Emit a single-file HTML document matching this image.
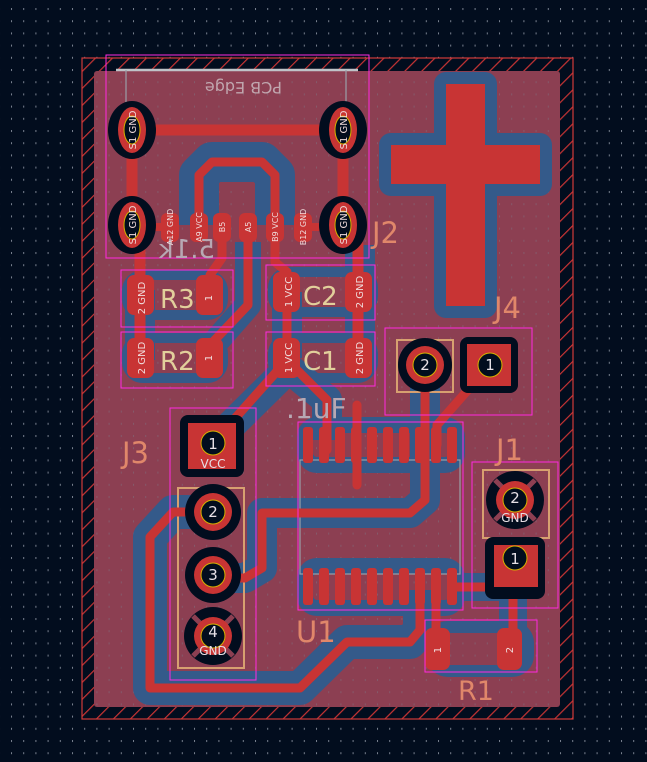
<!DOCTYPE html>
<html><head><meta charset="utf-8"><style>
html,body{margin:0;padding:0;background:#020d1e;}
svg{display:block}
text{font-family:"DejaVu Sans","Liberation Sans",sans-serif;}
</style></head><body>
<svg width="647" height="762" viewBox="0 0 647 762" xmlns="http://www.w3.org/2000/svg">
<defs>
<pattern id="grid" x="11" y="8" width="12.2" height="12.2" patternUnits="userSpaceOnUse">
<rect x="0" y="0" width="1" height="2" fill="#7a8290"/>
</pattern>
<pattern id="hatch" width="12" height="12" patternUnits="userSpaceOnUse" patternTransform="rotate(45)">
<rect width="12" height="12" fill="#020d1e"/><rect x="0" y="0" width="1.2" height="12" fill="#c83434"/>
</pattern>
</defs>
<rect width="647" height="762" fill="#020d1e"/>
<rect width="647" height="762" fill="url(#grid)"/>
<rect x="82" y="58" width="491" height="661" fill="url(#hatch)"/>
<rect x="82" y="58" width="491" height="661" fill="none" stroke="#d03a3a" stroke-width="1.2"/>
<rect x="94" y="71" width="466" height="636" rx="3" fill="#8c3f52"/>
<rect x="94" y="71" width="466" height="636" fill="url(#grid)" opacity="0.4"/>

<!-- BLUE back-copper halos -->
<path d="M446 84 H485 V145 H540 V184 H485 V306 H446 V184 H391 V145 H446 Z" fill="#345a8a" stroke="#345a8a" stroke-width="24" stroke-linejoin="round"/>
<g fill="none" stroke="#345a8a" stroke-linejoin="round" stroke-linecap="butt">
 <path d="M199 225 V175 L212 162 H262 L275 175 V225" stroke-width="40"/>
 <rect x="127" y="275" width="96" height="40" rx="16" stroke-width="10"/>
 <rect x="127" y="338" width="96" height="40" rx="16" stroke-width="10"/>
 <rect x="273" y="272" width="100" height="40" rx="16" stroke-width="10"/>
 <rect x="273" y="338" width="100" height="40" rx="16" stroke-width="10"/>
 <path d="M287 370 L213 443" stroke-width="30"/>
 <path d="M287 367 L327 400 V440" stroke-width="30"/>
 <rect x="305" y="425" width="152" height="40" rx="12" stroke-width="16"/>
 <rect x="305" y="566" width="152" height="42" rx="12" stroke-width="16"/>
 <path d="M425 365 V500 L410 513 H262 V568 L245 578 H213" stroke-width="30"/>
 <path d="M212 512 H173 L150 537 V688 H300 L347 642 H410 L420 630 V590" stroke-width="34"/>
 <rect x="432" y="627" width="96" height="44" rx="16" stroke-width="12"/>
 <path d="M452 587 H513 M513 560 V650" stroke-width="28"/>
 <path d="M360 245 V360" stroke-width="30"/>
 <path d="M140 290 V360" stroke-width="30"/>
 <path d="M287 292 V358" stroke-width="30"/>
 <path d="M248 242 V305 L213 345" stroke-width="26"/>
</g>

<g fill="none" stroke="#d7a070" stroke-width="2">
 <rect x="178" y="488" width="66" height="180"/>
 <rect x="397" y="340" width="56" height="52"/>
 <rect x="483" y="470" width="66" height="68"/>
</g>
<g fill="none" stroke="#9aa0a8" stroke-width="1.2">
 <rect x="300" y="460" width="160" height="114"/>
 <line x1="116" y1="70" x2="358" y2="70" stroke="#bfc3c8" stroke-width="2.5"/>
 <line x1="126" y1="70" x2="126" y2="110"/><line x1="346" y1="70" x2="346" y2="110"/>
</g>

<g fill="none" stroke="#c83434" stroke-linejoin="round" stroke-linecap="round">
 <path d="M446 84 H485 V145 H540 V184 H485 V306 H446 V184 H391 V145 H446 Z" fill="#c83434" stroke-width="0"/>
 <path d="M132 130 H343" stroke-width="11"/>
 <path d="M132 130 V225 M343 130 V225" stroke-width="11"/>
 <path d="M199 225 V175 L212 162 H262 L275 175 V225" stroke-width="9"/>
 <path d="M170 227 H132" stroke-width="8"/>
 <path d="M303 227 H343" stroke-width="8"/>
 <path d="M140 225 V358" stroke-width="11"/>
 <path d="M343 225 L358 245 V358" stroke-width="11"/>
 <path d="M222 227 V258 L210 275 V295" stroke-width="9"/>
 <path d="M248 227 V305 L210 345 V358" stroke-width="9"/>
 <path d="M275 225 V262 L287 272 V358" stroke-width="9"/>
 <path d="M287 360 L213 443" stroke-width="9"/>
 <path d="M287 360 L327 400 V450" stroke-width="9"/>
 <path d="M357 405 V485" stroke-width="9"/>
 <path d="M425 365 V500 L410 513 H262 V568 L245 578 H213" stroke-width="9"/>
 <path d="M490 365 L437 425 V445" stroke-width="9"/>
 <path d="M212 512 H173 L150 537 V688 H300 L347 642 H410 L420 630 V585" stroke-width="9"/>
 <path d="M436 585 V650" stroke-width="9"/>
 <path d="M452 587 H513" stroke-width="9"/>
 <path d="M513 560 V650" stroke-width="9"/>
</g>

<g>
 <g transform="translate(132,130)"><ellipse rx="24" ry="29" fill="#020d1e"/><ellipse rx="14" ry="23" fill="#c83434"/><ellipse rx="8" ry="14" fill="#020d1e" stroke="#d6b000" stroke-width="1"/></g>
 <g transform="translate(343,130)"><ellipse rx="24" ry="29" fill="#020d1e"/><ellipse rx="14" ry="23" fill="#c83434"/><ellipse rx="8" ry="14" fill="#020d1e" stroke="#d6b000" stroke-width="1"/></g>
 <g transform="translate(132,225)"><ellipse rx="24" ry="29" fill="#020d1e"/><ellipse rx="14" ry="23" fill="#c83434"/><ellipse rx="8" ry="14" fill="#020d1e" stroke="#d6b000" stroke-width="1"/></g>
 <g transform="translate(343,225)"><ellipse rx="24" ry="29" fill="#020d1e"/><ellipse rx="14" ry="23" fill="#c83434"/><ellipse rx="8" ry="14" fill="#020d1e" stroke="#d6b000" stroke-width="1"/></g>
</g>
<g fill="#c83434">
 <rect x="161" y="213" width="18" height="29" rx="6"/>
 <rect x="190" y="213" width="18" height="29" rx="6"/>
 <rect x="213" y="213" width="18" height="29" rx="6"/>
 <rect x="239" y="213" width="18" height="29" rx="6"/>
 <rect x="266" y="213" width="18" height="29" rx="6"/>
 <rect x="294" y="213" width="18" height="29" rx="6"/>
 <rect x="127" y="275" width="27" height="40" rx="7"/><rect x="196" y="275" width="27" height="40" rx="7"/>
 <rect x="127" y="338" width="27" height="40" rx="7"/><rect x="196" y="338" width="27" height="40" rx="7"/>
 <rect x="273" y="272" width="27" height="40" rx="7"/><rect x="345" y="272" width="27" height="40" rx="7"/>
 <rect x="273" y="338" width="27" height="40" rx="7"/><rect x="345" y="338" width="27" height="40" rx="7"/>
 <rect x="425" y="628" width="25" height="42" rx="7"/><rect x="497" y="628" width="25" height="42" rx="7"/>
</g>
<g fill="#c83434">
 <rect x="303" y="427" width="10" height="36" rx="3"/><rect x="319" y="427" width="10" height="36" rx="3"/><rect x="335" y="427" width="10" height="36" rx="3"/><rect x="351" y="427" width="10" height="36" rx="3"/><rect x="367" y="427" width="10" height="36" rx="3"/><rect x="383" y="427" width="10" height="36" rx="3"/><rect x="399" y="427" width="10" height="36" rx="3"/><rect x="415" y="427" width="10" height="36" rx="3"/><rect x="431" y="427" width="10" height="36" rx="3"/><rect x="447" y="427" width="10" height="36" rx="3"/>
 <rect x="303" y="568" width="10" height="37" rx="3"/><rect x="319" y="568" width="10" height="37" rx="3"/><rect x="335" y="568" width="10" height="37" rx="3"/><rect x="351" y="568" width="10" height="37" rx="3"/><rect x="367" y="568" width="10" height="37" rx="3"/><rect x="383" y="568" width="10" height="37" rx="3"/><rect x="399" y="568" width="10" height="37" rx="3"/><rect x="415" y="568" width="10" height="37" rx="3"/><rect x="431" y="568" width="10" height="37" rx="3"/><rect x="447" y="568" width="10" height="37" rx="3"/>
</g>

<g>
 <circle cx="425" cy="365" r="27" fill="#020d1e"/><circle cx="425" cy="365" r="19" fill="#c83434"/><circle cx="425" cy="365" r="12" fill="#020d1e" stroke="#d6b000"/>
 <rect x="460" y="337" width="58" height="56" rx="8" fill="#020d1e"/><rect x="467" y="344" width="44" height="42" fill="#c83434"/><circle cx="490" cy="365" r="12" fill="#020d1e" stroke="#d6b000"/>
 <rect x="180" y="415" width="64" height="62" rx="8" fill="#020d1e"/><rect x="188" y="423" width="48" height="46" fill="#c83434"/><circle cx="213" cy="443" r="12" fill="#020d1e" stroke="#d6b000"/>
 <circle cx="213" cy="512" r="28" fill="#020d1e"/><circle cx="213" cy="512" r="19" fill="#c83434"/><circle cx="213" cy="512" r="12" fill="#020d1e" stroke="#d6b000"/>
 <circle cx="213" cy="575" r="28" fill="#020d1e"/><circle cx="213" cy="575" r="19" fill="#c83434"/><circle cx="213" cy="575" r="12" fill="#020d1e" stroke="#d6b000"/>
 <circle cx="213" cy="636" r="29" fill="#020d1e"/><path d="M193 616 L233 656 M233 616 L193 656" stroke="#8c3f52" stroke-width="5"/><circle cx="213" cy="636" r="19" fill="#c83434"/><circle cx="213" cy="636" r="12" fill="#020d1e" stroke="#d6b000"/>
 <circle cx="515" cy="500" r="29" fill="#020d1e"/><path d="M495 480 L535 520 M535 480 L495 520" stroke="#8c3f52" stroke-width="5"/><circle cx="515" cy="500" r="19" fill="#c83434"/><circle cx="515" cy="500" r="12" fill="#020d1e" stroke="#d6b000"/>
 <rect x="485" y="537" width="60" height="62" rx="8" fill="#020d1e"/><rect x="494" y="545" width="44" height="42" fill="#c83434"/><circle cx="515" cy="558" r="12" fill="#020d1e" stroke="#d6b000"/>
</g>

<g fill="none" stroke="#ff2ae0" stroke-width="1">
 <rect x="106" y="55" width="263" height="203"/>
 <rect x="121" y="270" width="112" height="57"/>
 <rect x="121" y="332" width="112" height="56"/>
 <rect x="266" y="265" width="109" height="55"/>
 <rect x="266" y="332" width="109" height="54"/>
 <rect x="385" y="328" width="147" height="87"/>
 <rect x="170" y="408" width="86" height="272"/>
 <rect x="298" y="422" width="165" height="188"/>
 <rect x="472" y="462" width="86" height="146"/>
 <rect x="425" y="620" width="112" height="52"/>
</g>

<g fill="#e0876a" font-size="29">
 <text x="372" y="243">J2</text>
 <text x="494" y="318">J4</text>
 <text x="496" y="460">J1</text>
 <text x="122" y="463">J3</text>
 <text x="296" y="642">U1</text>
 <text x="458" y="700" font-size="27">R1</text>
</g>
<g fill="#c0a6ae" font-size="16">
 <text transform="translate(282,82) scale(-1,-1)" font-size="16">PCB Edge</text>
 <text x="286" y="418" font-size="28" fill="#b7a8b3">.1uF</text>
 <text transform="translate(215,258) scale(-1,1)" font-size="26" fill="#b7a8b3">5.1k</text>
</g>
<g fill="#f2e9a8" font-size="26" opacity="0.85">
 <text x="160" y="308">R3</text><text x="160" y="370">R2</text>
 <text x="303" y="305">C2</text><text x="303" y="370">C1</text>
</g>
<g fill="#f0dcdc" font-size="10">
 <text transform="translate(145,298) rotate(-90)" text-anchor="middle">2 GND</text>
 <text transform="translate(212,298) rotate(-90)" text-anchor="middle">1</text>
 <text transform="translate(145,358) rotate(-90)" text-anchor="middle">2 GND</text>
 <text transform="translate(212,358) rotate(-90)" text-anchor="middle">1</text>
 <text transform="translate(292,292) rotate(-90)" text-anchor="middle">1 VCC</text>
 <text transform="translate(363,292) rotate(-90)" text-anchor="middle">2 GND</text>
 <text transform="translate(292,358) rotate(-90)" text-anchor="middle">1 VCC</text>
 <text transform="translate(363,358) rotate(-90)" text-anchor="middle">2 GND</text>
 <text transform="translate(136,130) rotate(-90)" text-anchor="middle">S1 GND</text>
 <text transform="translate(347,130) rotate(-90)" text-anchor="middle">S1 GND</text>
 <text transform="translate(136,225) rotate(-90)" text-anchor="middle">S1 GND</text>
 <text transform="translate(347,225) rotate(-90)" text-anchor="middle">S1 GND</text>
 <text transform="translate(173,227) rotate(-90)" text-anchor="middle" font-size="8">A12 GND</text>
 <text transform="translate(202,227) rotate(-90)" text-anchor="middle" font-size="8">A9 VCC</text>
 <text transform="translate(225,227) rotate(-90)" text-anchor="middle" font-size="8">B5</text>
 <text transform="translate(251,227) rotate(-90)" text-anchor="middle" font-size="8">A5</text>
 <text transform="translate(278,227) rotate(-90)" text-anchor="middle" font-size="8">B9 VCC</text>
 <text transform="translate(306,227) rotate(-90)" text-anchor="middle" font-size="8">B12 GND</text>
 <text transform="translate(441,650) rotate(-90)" text-anchor="middle">1</text>
 <text transform="translate(513,650) rotate(-90)" text-anchor="middle">2</text>
</g>
<g fill="#e6e0e6" font-size="15" text-anchor="middle">
 <text x="425" y="370">2</text><text x="490" y="370">1</text>
 <text x="213" y="449">1</text><text x="213" y="517">2</text><text x="213" y="580">3</text><text x="213" y="637">4</text>
 <text x="515" y="503">2</text><text x="515" y="564">1</text>
 <text x="213" y="468" font-size="12">VCC</text>
 <text x="213" y="655" font-size="12">GND</text>
 <text x="515" y="522" font-size="12">GND</text>
</g>
</svg>
</body></html>
